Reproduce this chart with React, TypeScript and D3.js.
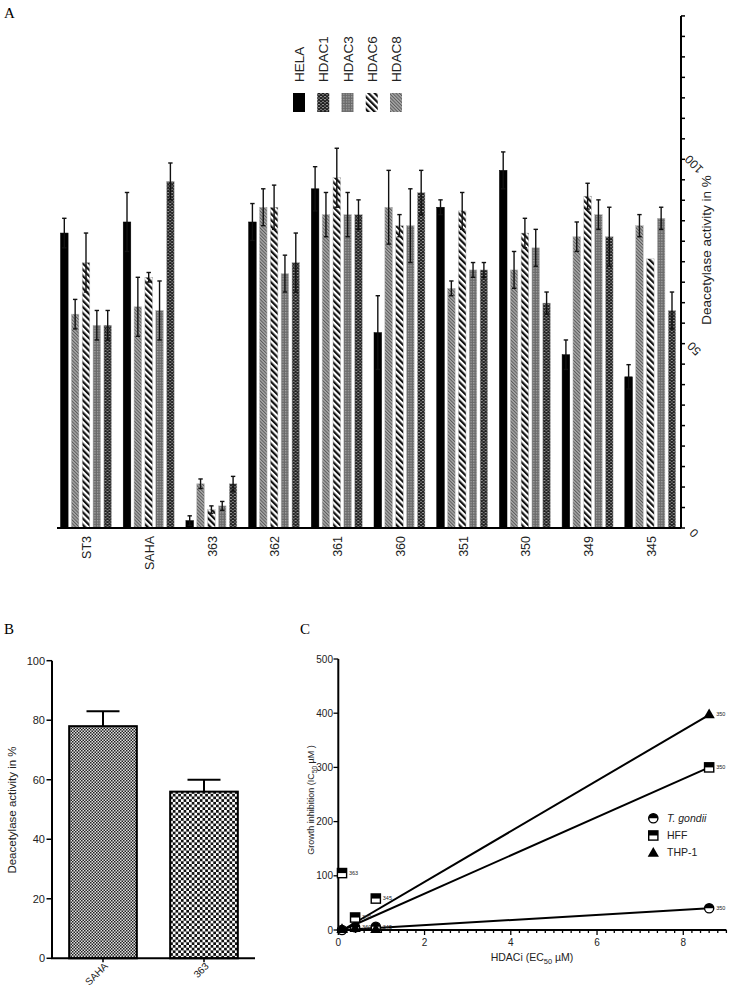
import React from "react";
import * as d3 from "d3";

// ---------- Panel A data ----------
const groupsA = ["ST3", "SAHA", "363", "362", "361", "360", "351", "350", "349", "345"];
const seriesA = ["HELA", "HDAC8", "HDAC6", "HDAC3", "HDAC1"];
const legendA = ["HELA", "HDAC1", "HDAC3", "HDAC6", "HDAC8"];
const helaVals = [80, 83, 2, 83, 92, 53, 87, 97, 47, 41];
const helaErr = [4, 8, 1.3, 5, 6, 10, 2, 5, 4, 3.3];
const hdac8Vals = [58, 60, 12, 87, 85, 87, 65, 70, 79, 82];
const hdac8Err = [4, 8, 1.3, 5, 6, 10, 2, 5, 4, 3];
const hdac6Vals = [72, 68, 5, 87, 95, 82, 86, 80, 90, 73];
const hdac6Err = [8, 1.3, 1, 6, 8, 3, 5, 4, 3.5, 0];
const hdac3Vals = [55, 59, 6, 69, 85, 82, 70, 76, 85, 84];
const hdac3Err = [4, 8, 1.2, 5, 6, 10, 2, 5, 4, 3];
const hdac1Vals = [55, 94, 12, 72, 85, 91, 70, 61, 79, 59];
const hdac1Err = [4, 5, 2, 8, 4, 6, 2, 3, 8, 5];
const tickLabelsA = [0, 50, 100];

// ---------- Panel B data ----------
const groupsB = ["SAHA", "363"];
const valuesB = [78, 56];
const errB = [5, 4];
const tickLabelsB = [0, 20, 40, 60, 80, 100];

// ---------- Panel C data ----------
const ecX = [0.086, 0.39, 0.87, 8.6];
const tgondiiY = [0, 5, 6, 40];
const tgondiiLab = ["", "360", "345", "350"];
const hffY = [105, 23, 58, 300];
const hffLab = ["363", "360", "345", "350"];
const thpY = [2, 4, 2, 398];
const thpLab = ["", "", "", "350"];
const fitStart = [0.1, 0];
const fitEndTgondii = [8.6, 40];
const fitEndHff = [8.6, 300];
const fitEndThp = [8.6, 397];
const xTicksC = [0, 2, 4, 6, 8];
const yTicksC = [0, 100, 200, 300, 400, 500];
const legendC = ["T. gondii", "HFF", "THP-1"];

const SANS = "'Liberation Sans', Arial, Helvetica, sans-serif";
const SERIF = "'Liberation Serif', 'DejaVu Serif', serif";

const valsBySeries: Record<string, number[]> = {
  HELA: helaVals, HDAC8: hdac8Vals, HDAC6: hdac6Vals, HDAC3: hdac3Vals, HDAC1: hdac1Vals,
};
const errBySeries: Record<string, number[]> = {
  HELA: helaErr, HDAC8: hdac8Err, HDAC6: hdac6Err, HDAC3: hdac3Err, HDAC1: hdac1Err,
};
const fillBySeries: Record<string, string> = {
  HELA: "#000", HDAC1: "url(#pBrick)", HDAC3: "url(#pCross)", HDAC6: "url(#pStripe)", HDAC8: "url(#pFine)",
};

function PanelA() {
  const y = d3.scaleLinear().domain([0, 100]).range([528, 159.3]);
  const x = d3.scaleBand<string>().domain(groupsA).range([57, 679.3]).paddingInner(0.187).paddingOuter(0.056);
  const xi = d3.scaleBand<string>().domain(seriesA).range([0, x.bandwidth()]).paddingInner(0.3);
  const minor = d3.range(0, 26).map((k) => (k * 50) / 9);
  const legX = d3.scalePoint<string>().domain(legendA).range([299, 396]);
  const axisX = 681;
  return (
    <g>
      <text x={4} y={18} fontFamily={SERIF} fontSize={15}>A</text>
      {groupsA.map((g, gi) => (
        <g key={g} transform={`translate(${x(g)},0)`}>
          {seriesA.map((s) => {
            const v = valsBySeries[s][gi];
            const e = errBySeries[s][gi];
            const bx = xi(s)!;
            const w = xi.bandwidth();
            const cx = bx + w / 2;
            return (
              <g key={s}>
                <rect x={bx} y={y(v)} width={w} height={y(0) - y(v)} fill={fillBySeries[s]}
                  stroke={s === "HELA" ? "#000" : "#bbb"} strokeWidth={0.5} />
                {e > 0 && (
                  <g stroke="#111" strokeWidth={1.4}>
                    <line x1={cx} x2={cx} y1={y(v + e)} y2={y(v - e)} />
                    <line x1={cx - 2.2} x2={cx + 2.2} y1={y(v + e)} y2={y(v + e)} />
                    <line x1={cx - 2.2} x2={cx + 2.2} y1={y(v - e)} y2={y(v - e)} />
                  </g>
                )}
              </g>
            );
          })}
          <text transform={`translate(${x.bandwidth() / 2 + 1},536) rotate(-90)`} textAnchor="end" dy="0.35em"
            fontFamily={SANS} fontSize={12.5} fill="#222">{g}</text>
        </g>
      ))}
      <line x1={57} x2={axisX} y1={y(0)} y2={y(0)} stroke="#000" strokeWidth={2} />
      <line x1={axisX} x2={axisX} y1={y(0)} y2={y(minor[minor.length - 1])} stroke="#000" strokeWidth={2} />
      {minor.map((t, i) => (
        <line key={i} x1={axisX} x2={axisX + 4} y1={y(t)} y2={y(t)} stroke="#000" strokeWidth={1.5} />
      ))}
      {tickLabelsA.map((t) => (
        <text key={t} transform={`translate(${694},${y(t) + 5}) rotate(225)`} textAnchor="middle" dy="0.35em"
          fontFamily={SANS} fontSize={12} fill="#222">{t}</text>
      ))}
      <text transform={`translate(706,250) rotate(-90)`} textAnchor="middle" dy="0.35em"
        fontFamily={SANS} fontSize={13.5} fill="#222">Deacetylase activity in %</text>
      {legendA.map((s) => (
        <g key={s}>
          <rect x={legX(s)! - 6} y={93} width={12} height={19} fill={fillBySeries[s]} />
          <text transform={`translate(${legX(s)! + 0.5},82) rotate(-90)`} textAnchor="start" dy="0.35em"
            fontFamily={SANS} fontSize={13.5} fill="#222">{s}</text>
        </g>
      ))}
    </g>
  );
}

function PanelB() {
  const y = d3.scaleLinear().domain([0, 100]).range([958.3, 660.7]);
  const x = d3.scaleBand<string>().domain(groupsB).range([52, 255]).paddingInner(0.33).paddingOuter(0.17);
  const fills = ["url(#pCheckFine)", "url(#pCheckCoarse)"];
  return (
    <g>
      <text x={4} y={634} fontFamily={SERIF} fontSize={15}>B</text>
      {groupsB.map((g, i) => {
        const bx = x(g)!;
        const cx = bx + x.bandwidth() / 2;
        return (
          <g key={g}>
            <line x1={cx} x2={cx} y1={y(valuesB[i])} y2={y(valuesB[i] + errB[i])} stroke="#000" strokeWidth={2} />
            <line x1={cx - 16.5} x2={cx + 16.5} y1={y(valuesB[i] + errB[i])} y2={y(valuesB[i] + errB[i])} stroke="#000" strokeWidth={2} />
            <rect x={bx} y={y(valuesB[i])} width={x.bandwidth()} height={y(0) - y(valuesB[i])}
              fill={fills[i]} stroke="#000" strokeWidth={2} />
            <line x1={cx} x2={cx} y1={y(0)} y2={y(0) + 4} stroke="#000" strokeWidth={1.5} />
            <text transform={`translate(${cx + 3},${y(0) + 6}) rotate(-45)`} textAnchor="end" dy="0.35em"
              fontFamily={SANS} fontSize={10} fill="#222">{g}</text>
          </g>
        );
      })}
      <line x1={52} x2={52} y1={y(0)} y2={y(100)} stroke="#000" strokeWidth={2} />
      <line x1={51} x2={255} y1={y(0)} y2={y(0)} stroke="#000" strokeWidth={2} />
      {tickLabelsB.map((t) => (
        <g key={t}>
          <line x1={46.5} x2={52} y1={y(t)} y2={y(t)} stroke="#000" strokeWidth={1.5} />
          <text x={45} y={y(t)} dy="0.35em" textAnchor="end" fontFamily={SANS} fontSize={11} fill="#222">{t}</text>
        </g>
      ))}
      <text transform={`translate(12,810) rotate(-90)`} textAnchor="middle" dy="0.35em"
        fontFamily={SANS} fontSize={11.5} fill="#222">Deacetylase activity in %</text>
    </g>
  );
}

function Sym({ kind, cx, cy }: { kind: string; cx: number; cy: number }) {
  if (kind === "circle") {
    const r = 4.6;
    return (
      <g>
        <circle cx={cx} cy={cy} r={r} fill="#fff" stroke="#000" strokeWidth={1.4} />
        <path d={`M${cx - r},${cy} A${r},${r} 0 0 1 ${cx + r},${cy} Z`} fill="#000" />
      </g>
    );
  }
  if (kind === "square") {
    const h = 4.6;
    return (
      <g>
        <rect x={cx - h} y={cy - h} width={2 * h} height={2 * h} fill="#fff" stroke="#000" strokeWidth={1.4} />
        <rect x={cx - h} y={cy - h} width={2 * h} height={h} fill="#000" />
      </g>
    );
  }
  const p = d3.symbol().type(d3.symbolTriangle).size(55)()!;
  return <path d={p} transform={`translate(${cx},${cy + 0.8})`} fill="#000" />;
}

function PanelC() {
  const x = d3.scaleLinear().domain([0, 9]).range([338.3, 726.4]);
  const y = d3.scaleLinear().domain([0, 500]).range([930, 659]);
  const minorX = d3.range(0, 46).map((k) => k * 0.2);
  const series = [
    { kind: "circle", ys: tgondiiY, labs: tgondiiLab, end: fitEndTgondii },
    { kind: "square", ys: hffY, labs: hffLab, end: fitEndHff },
    { kind: "triangle", ys: thpY, labs: thpLab, end: fitEndThp },
  ];
  const legY = d3.scalePoint<string>().domain(legendC).range([818.3, 852.7]);
  const kinds = ["circle", "square", "triangle"];
  return (
    <g>
      <text x={300} y={634} fontFamily={SERIF} fontSize={15}>C</text>
      {series.map((s, i) => (
        <line key={i} x1={x(fitStart[0])} y1={y(fitStart[1])} x2={x(s.end[0])} y2={y(s.end[1])}
          stroke="#000" strokeWidth={2} />
      ))}
      <line x1={338.3} x2={338.3} y1={y(0)} y2={y(500)} stroke="#000" strokeWidth={2} />
      <line x1={337.3} x2={x(9)} y1={y(0)} y2={y(0)} stroke="#000" strokeWidth={2} />
      {minorX.map((t, i) => (
        <line key={i} x1={x(t)} x2={x(t)} y1={y(0)} y2={y(0) + (xTicksC.includes(Math.round(t * 10) / 10) ? 5 : 3)}
          stroke="#000" strokeWidth={1.3} />
      ))}
      {xTicksC.map((t) => (
        <text key={t} x={x(t)} y={y(0) + 12} dy="0.35em" textAnchor="middle" fontFamily={SANS} fontSize={10} fill="#222">{t}</text>
      ))}
      {yTicksC.map((t) => (
        <g key={t}>
          <line x1={333.5} x2={338.3} y1={y(t)} y2={y(t)} stroke="#000" strokeWidth={1.3} />
          <text x={333} y={y(t)} dy="0.35em" textAnchor="end" fontFamily={SANS} fontSize={10} fill="#222">{t}</text>
        </g>
      ))}
      {series.map((s, i) => (
        <g key={i}>
          {ecX.map((xv, j) => (
            <g key={j}>
              <Sym kind={s.kind} cx={x(xv)} cy={y(s.ys[j])} />
              {s.labs[j] && (
                <text x={x(xv) + 7} y={y(s.ys[j])} dy="0.35em" fontFamily={SANS} fontSize={5.5} fill="#222">{s.labs[j]}</text>
              )}
            </g>
          ))}
        </g>
      ))}
      {legendC.map((l, i) => (
        <g key={l}>
          <Sym kind={kinds[i]} cx={653.3} cy={legY(l)!} />
          <text x={667} y={legY(l)!} dy="0.35em" fontFamily={SANS} fontSize={10.5} fill="#222"
            fontStyle={i === 0 ? "italic" : "normal"}>{l}</text>
        </g>
      ))}
      <text x={532} y={957} dy="0.35em" textAnchor="middle" fontFamily={SANS} fontSize={10.5} fill="#222">
        HDACi (EC<tspan fontSize={7.5} dy={3}>50</tspan><tspan dy={-3}> µM)</tspan>
      </text>
      <text transform={`translate(311,800) rotate(-90)`} textAnchor="middle" dy="0.35em" fontFamily={SANS} fontSize={9} fill="#222">
        Growth inhibition (IC<tspan fontSize={6.5} dy={2.5}>50</tspan><tspan dy={-2.5}>  µM )</tspan>
      </text>
    </g>
  );
}

export default function App() {
  return (
    <svg width={740} height={990} style={{ position: "absolute", left: 0, top: 0, background: "#fff" }}>
      <defs>
        <pattern id="pBrick" patternUnits="userSpaceOnUse" width={4} height={3.2}>
          <rect width={4} height={3.2} fill="#1e1e1e" />
          <rect x={0} y={0.2} width={2} height={0.7} fill="#c8c8c8" />
          <rect x={2} y={1.8} width={2} height={0.7} fill="#c8c8c8" />
        </pattern>
        <pattern id="pCross" patternUnits="userSpaceOnUse" width={2.6} height={2.6}>
          <rect width={2.6} height={2.6} fill="#6a6a6a" />
          <rect width={1.3} height={1.3} fill="#a8a8a8" />
        </pattern>
        <pattern id="pStripe" patternUnits="userSpaceOnUse" width={4.4} height={4.4} patternTransform="rotate(-45)">
          <rect width={4.4} height={4.4} fill="#fff" />
          <rect width={2.2} height={4.4} fill="#111" />
        </pattern>
        <pattern id="pFine" patternUnits="userSpaceOnUse" width={2.4} height={2.4} patternTransform="rotate(-45)">
          <rect width={2.4} height={2.4} fill="#aaa" />
          <rect width={1} height={2.4} fill="#5a5a5a" />
        </pattern>
        <pattern id="pCheckFine" patternUnits="userSpaceOnUse" width={3} height={3}>
          <rect width={3} height={3} fill="#e0e0e0" />
          <rect width={1.5} height={1.5} fill="#222" />
          <rect x={1.5} y={1.5} width={1.5} height={1.5} fill="#222" />
        </pattern>
        <pattern id="pCheckCoarse" patternUnits="userSpaceOnUse" width={5.4} height={5.4}>
          <rect width={5.4} height={5.4} fill="#fff" />
          <rect width={2.7} height={2.7} fill="#111" />
          <rect x={2.7} y={2.7} width={2.7} height={2.7} fill="#111" />
        </pattern>
      </defs>
      <PanelA />
      <PanelB />
      <PanelC />
    </svg>
  );
}
